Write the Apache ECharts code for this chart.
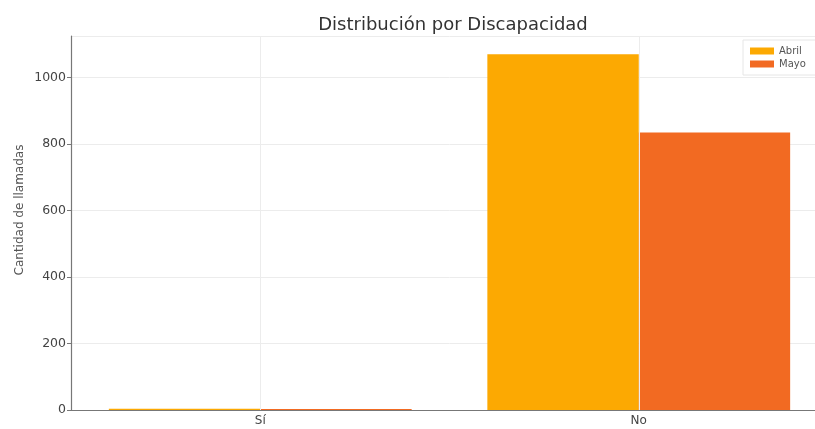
<!DOCTYPE html>
<html>
<head>
<meta charset="utf-8">
<script src="https://cdn.jsdelivr.net/npm/echarts@6/dist/echarts.min.js"></script>
<style>html,body{margin:0;padding:0;background:#fff;overflow:hidden;width:815px;height:429px}#c{width:829px;height:429px}</style>
</head>
<body>
<div id="c"></div>
<script>
var categories = ['Sí', 'No'];
var abril = [4, 1069];
var mayo = [3, 834];
var seriesNames = ['Abril', 'Mayo'];
var yTicks = [0, 200, 400, 600, 800, 1000];
var titleText = 'Distribución por Discapacidad';
var yName = 'Cantidad de llamadas';

var chart = echarts.init(document.getElementById('c'));
var font = 'DejaVu Sans';
chart.setOption({
  animation: false,
  backgroundColor: '#fff',
  title: {
    text: titleText,
    left: 448, top: 11, textAlign: 'center',
    textStyle: { fontFamily: font, fontSize: 18, fontWeight: 'normal', color: '#333' }
  },
  legend: {
    orient: 'vertical', left: 743, top: 40,
    data: seriesNames,
    itemWidth: 24, itemHeight: 7, itemGap: 3,
    backgroundColor: '#fff', borderColor: '#e6e6e6', borderWidth: 1, padding: [6, 14, 6, 7],
    textStyle: { fontFamily: font, fontSize: 10, color: '#555' },
    icon: 'rect'
  },
  graphic: [{
    type: 'text', x: 20, y: 210, rotation: Math.PI / 2,
    style: { text: yName, fontFamily: font, fontSize: 12, fill: '#555', align: 'center', verticalAlign: 'middle' }
  }],
  grid: { left: 71, right: 1, top: 36, bottom: 19, containLabel: false },
  xAxis: {
    type: 'category', data: categories,
    axisLine: { lineStyle: { color: '#777', width: 1.2 } },
    axisTick: { alignWithLabel: true, length: 4, lineStyle: { color: '#777' } },
    axisLabel: { fontFamily: font, fontSize: 12, color: '#444', margin: 5 },
    splitLine: { show: false }
  },
  yAxis: {
    type: 'value', min: 0, max: 1124, interval: 200,
    axisLine: { show: true, lineStyle: { color: '#777', width: 1.2 } },
    axisTick: { show: true, length: 4, lineStyle: { color: '#777' } },
    axisLabel: {
      fontFamily: font, fontSize: 12.5, color: '#444', margin: 5, showMaxLabel: false,
      formatter: function (v) { return yTicks.indexOf(v) >= 0 ? String(v) : ''; }
    },
    splitLine: { lineStyle: { color: '#ececec', width: 1 } }
  },
  series: [
    {
      name: seriesNames[0], type: 'bar', data: abril, barWidth: '40%', barGap: '0%',
      itemStyle: { color: '#FCA902' }
    },
    {
      name: seriesNames[1], type: 'bar', data: mayo, barWidth: '40%', barGap: '0%',
      itemStyle: { color: '#F26A22' }
    },
    {
      name: 'grid-x', type: 'line', data: [], z: 0, silent: true,
      markLine: {
        silent: true, symbol: 'none', label: { show: false },
        lineStyle: { color: '#ececec', type: 'solid', width: 1 },
        data: categories.map(function (c) { return { xAxis: c }; })
      }
    }
  ]
});
</script>
</body>
</html>
